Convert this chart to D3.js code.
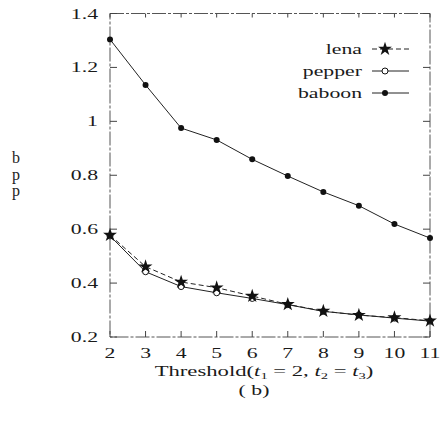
<!DOCTYPE html>
<html><head><meta charset="utf-8">
<script src="https://cdn.jsdelivr.net/npm/d3@7"></script>
<style>html,body{margin:0;padding:0;background:#fff} text{font-family:"Liberation Serif","DejaVu Serif",serif;}</style>
</head><body>
<svg id="c" width="444" height="435"></svg>
<script>
const thresholds = [2, 3, 4, 5, 6, 7, 8, 9, 10, 11];
const lena   = [0.578, 0.461, 0.404, 0.383, 0.352, 0.321, 0.296, 0.281, 0.272, 0.260];
const pepper = [0.575, 0.442, 0.387, 0.364, 0.343, 0.320, 0.295, 0.282, 0.270, 0.259];
const baboon = [1.304, 1.135, 0.975, 0.931, 0.859, 0.797, 0.738, 0.687, 0.619, 0.567];
const yTicks = [0.2, 0.4, 0.6, 0.8, 1, 1.2, 1.4];
const yTickLabels = ["0.2", "0.4", "0.6", "0.8", "1", "1.2", "1.4"];
const seriesNames = ["lena", "pepper", "baboon"];

const svg = d3.select("#c");
const x = d3.scaleLinear().domain([2, 11]).range([110, 430]);
const y = d3.scaleLinear().domain([0.2, 1.4]).range([337, 13.5]);

function txt(px, py, str, anchor, fs, sx) {
  const g = svg.append("g").attr("transform", `translate(${px},${py}) scale(${sx || 1.45},1)`);
  return g.append("text").attr("text-anchor", anchor || "middle")
    .attr("font-size", fs || 15).attr("fill", "#1a1a1a").text(str);
}

// frame
const frame = svg.append("g").attr("fill", "none").attr("stroke", "#555").attr("stroke-width", 1);
frame.append("rect").attr("x", x(2)).attr("y", y(1.4)).attr("width", x(11) - x(2)).attr("height", y(0.2) - y(1.4))
  .attr("stroke-dasharray", "14,2,3,2");

// ticks
const tk = svg.append("g").attr("stroke", "#444").attr("stroke-width", 1);
thresholds.forEach(t => {
  tk.append("line").attr("x1", x(t)).attr("x2", x(t)).attr("y1", y(0.2)).attr("y2", y(0.2) - 6);
  tk.append("line").attr("x1", x(t)).attr("x2", x(t)).attr("y1", y(1.4)).attr("y2", y(1.4) + 4);
});
yTicks.forEach(v => {
  tk.append("line").attr("x1", x(2)).attr("x2", x(2) + 7).attr("y1", y(v)).attr("y2", y(v));
  tk.append("line").attr("x1", x(11)).attr("x2", x(11) - 7).attr("y1", y(v)).attr("y2", y(v));
});

// tick labels
yTicks.forEach((v, i) => txt(98, y(v) + 5, yTickLabels[i], "end"));
thresholds.forEach(t => txt(x(t), 358, String(t), "middle", 14, 1.55));

// axis titles
const tt = txt(264, 376, "", "middle", 14, 1.62);
tt.append("tspan").text("Threshold(");
tt.append("tspan").attr("font-style", "italic").text("t");
tt.append("tspan").attr("font-size", 9).attr("dy", 3).text("1");
tt.append("tspan").attr("dy", -3).text(" = 2, ");
tt.append("tspan").attr("font-style", "italic").text("t");
tt.append("tspan").attr("font-size", 9).attr("dy", 3).text("2");
tt.append("tspan").attr("dy", -3).text(" = ");
tt.append("tspan").attr("font-style", "italic").text("t");
tt.append("tspan").attr("font-size", 9).attr("dy", 3).text("3");
tt.append("tspan").attr("dy", -3).text(")");
txt(254, 395, "( b)", "middle");

["b", "p", "p"].forEach((c, i) => {
  svg.append("text").attr("x", 16).attr("y", [163, 180, 196][i]).attr("text-anchor", "middle")
    .attr("font-size", 16).attr("fill", "#222").text(c);
});

// series
const data = [lena, pepper, baboon];
const dash = ["5,3", null, null];
const line = d3.line().x((d, i) => x(thresholds[i])).y(d => y(d));
const star = d3.symbol().type(d3.symbolStar).size(60);
function marker(g, k, cx, cy) {
  if (k === 0) g.append("path").attr("d", star()).attr("transform", `translate(${cx},${cy})`).attr("fill", "#111");
  else if (k === 1) g.append("circle").attr("cx", cx).attr("cy", cy).attr("r", 3).attr("fill", "#fff").attr("stroke", "#111").attr("stroke-width", 1);
  else g.append("circle").attr("cx", cx).attr("cy", cy).attr("r", 3).attr("fill", "#111");
}
[2, 1, 0].forEach(k => {
  const s = data[k];
  const g = svg.append("g");
  g.append("path").attr("d", line(s)).attr("fill", "none").attr("stroke", "#222").attr("stroke-width", 1)
    .attr("stroke-dasharray", dash[k]);
  s.forEach((v, i) => marker(g, k, x(thresholds[i]), y(v)));
});

// legend
const legY = [49, 71, 93];
seriesNames.forEach((n, k) => {
  txt(362, legY[k] + 5, n, "end");
  const g = svg.append("g");
  g.append("line").attr("x1", 372).attr("x2", 409).attr("y1", legY[k]).attr("y2", legY[k])
    .attr("stroke", "#222").attr("stroke-width", 1).attr("stroke-dasharray", dash[k]);
  marker(g, k, 385, legY[k]);
});
</script>
</body></html>
